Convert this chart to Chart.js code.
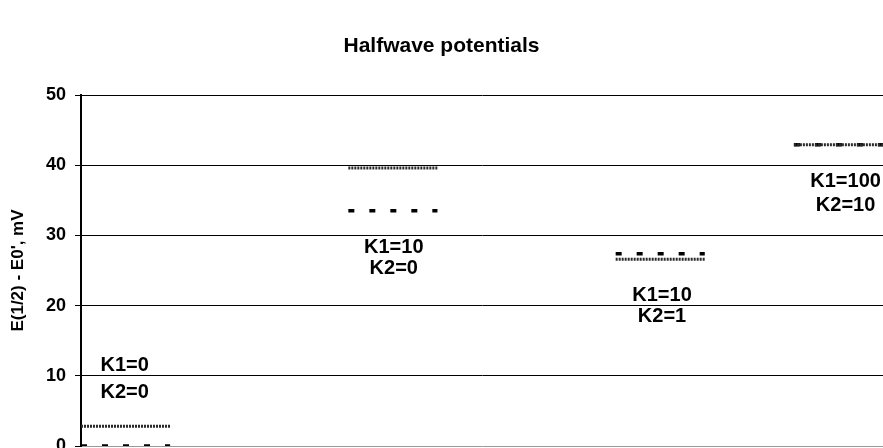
<!DOCTYPE html>
<html>
<head>
<meta charset="utf-8">
<script src="https://cdn.jsdelivr.net/npm/chart.js@4/dist/chart.umd.min.js"></script>
<style>
  html, body { margin: 0; padding: 0; background: #fff; }
  #wrap { width: 883px; height: 448px; }
</style>
</head>
<body>
<div id="wrap"><canvas id="chart" width="883" height="448"></canvas></div>
<script>
// Half-wave potential shifts for four (K1, K2) cases
const k1Labels = ['K1=0', 'K1=10', 'K1=10', 'K1=100'];
const k2Labels = ['K2=0', 'K2=0', 'K2=1', 'K2=10'];
const seriesA = [2.8, 39.6, 26.6, 42.9];   // textured line
const seriesB = [0.0, 33.5, 27.4, 42.9];   // dashed line
const yTicks = [0, 10, 20, 30, 40, 50];

// Horizontal placement of each case along the unlabeled x axis
const segStart = [0, 3, 6, 8];
const segWidth = 1;

// Where each case's caption pair sits (axis units)
const captionPos = [
  { x: 0.49, y1: 11.5, y2: 7.6 },
  { x: 3.51, y1: 28.3, y2: 25.3 },
  { x: 6.52, y1: 21.4, y2: 18.5 },
  { x: 8.58, y1: 37.7, y2: 34.2 }
];

const FONT = '"Liberation Sans", Arial, Helvetica, sans-serif';

function segments(values) {
  const pts = [];
  values.forEach((v, i) => {
    pts.push({ x: segStart[i], y: v });
    pts.push({ x: segStart[i] + segWidth, y: v });
    if (i < values.length - 1) pts.push({ x: segStart[i] + segWidth + 0.5, y: null });
  });
  return pts;
}

const captions = {
  id: 'captions',
  afterDatasetsDraw(chart) {
    const { ctx, scales: { x, y } } = chart;
    ctx.save();
    ctx.fillStyle = '#000';
    ctx.font = 'bold 20px ' + FONT;
    ctx.textAlign = 'center';
    ctx.textBaseline = 'middle';
    captionPos.forEach((p, i) => {
      const px = x.getPixelForValue(p.x);
      ctx.fillText(k1Labels[i], px, y.getPixelForValue(p.y1));
      ctx.fillText(k2Labels[i], px, y.getPixelForValue(p.y2));
    });
    ctx.restore();
  }
};

new Chart(document.getElementById('chart'), {
  type: 'line',
  data: {
    datasets: [
      {
        label: 'A',
        data: segments(seriesA),
        borderColor: '#2a2a2a',
        borderWidth: 3,
        borderDash: [2, 1],
        pointRadius: 0,
        spanGaps: false,
        fill: false
      },
      {
        label: 'B',
        data: segments(seriesB),
        borderColor: '#000',
        borderWidth: 3.5,
        borderDash: [6, 15],
        pointRadius: 0,
        spanGaps: false,
        fill: false
      }
    ]
  },
  options: {
    responsive: false,
    animation: false,
    layout: { padding: { top: 0, right: 0, bottom: 2, left: 0 } },
    plugins: {
      legend: { display: false },
      tooltip: { enabled: false },
      title: {
        display: true,
        text: 'Halfwave potentials',
        color: '#000',
        font: { family: FONT, size: 21, weight: 'bold', lineHeight: 1.2 },
        padding: { top: 34, bottom: 35.8 }
      }
    },
    scales: {
      x: {
        type: 'linear',
        min: 0,
        max: 9,
        display: false
      },
      y: {
        min: 0,
        max: 50,
        afterBuildTicks(scale) {
          scale.ticks = yTicks.map(v => ({ value: v }));
        },
        afterFit(scale) {
          scale.width = 81;
          scale.paddingTop = 0;
          scale.paddingBottom = 0;
        },
        border: { display: true, color: '#000', width: 2 },
        grid: {
          color: c => (c.tick && c.tick.value === 0 ? '#999' : '#000'),
          lineWidth: 1,
          drawTicks: true,
          tickLength: 6,
          tickColor: '#000'
        },
        ticks: {
          color: '#000',
          padding: 9,
          font: { family: FONT, size: 18, weight: 'bold' }
        },
        title: {
          display: true,
          text: "E(1/2) - E0', mV",
          color: '#000',
          font: { family: FONT, size: 17, weight: 'bold', lineHeight: 1.2 },
          padding: { top: 8, bottom: 0 }
        }
      }
    }
  },
  plugins: [captions]
});
</script>
</body>
</html>
